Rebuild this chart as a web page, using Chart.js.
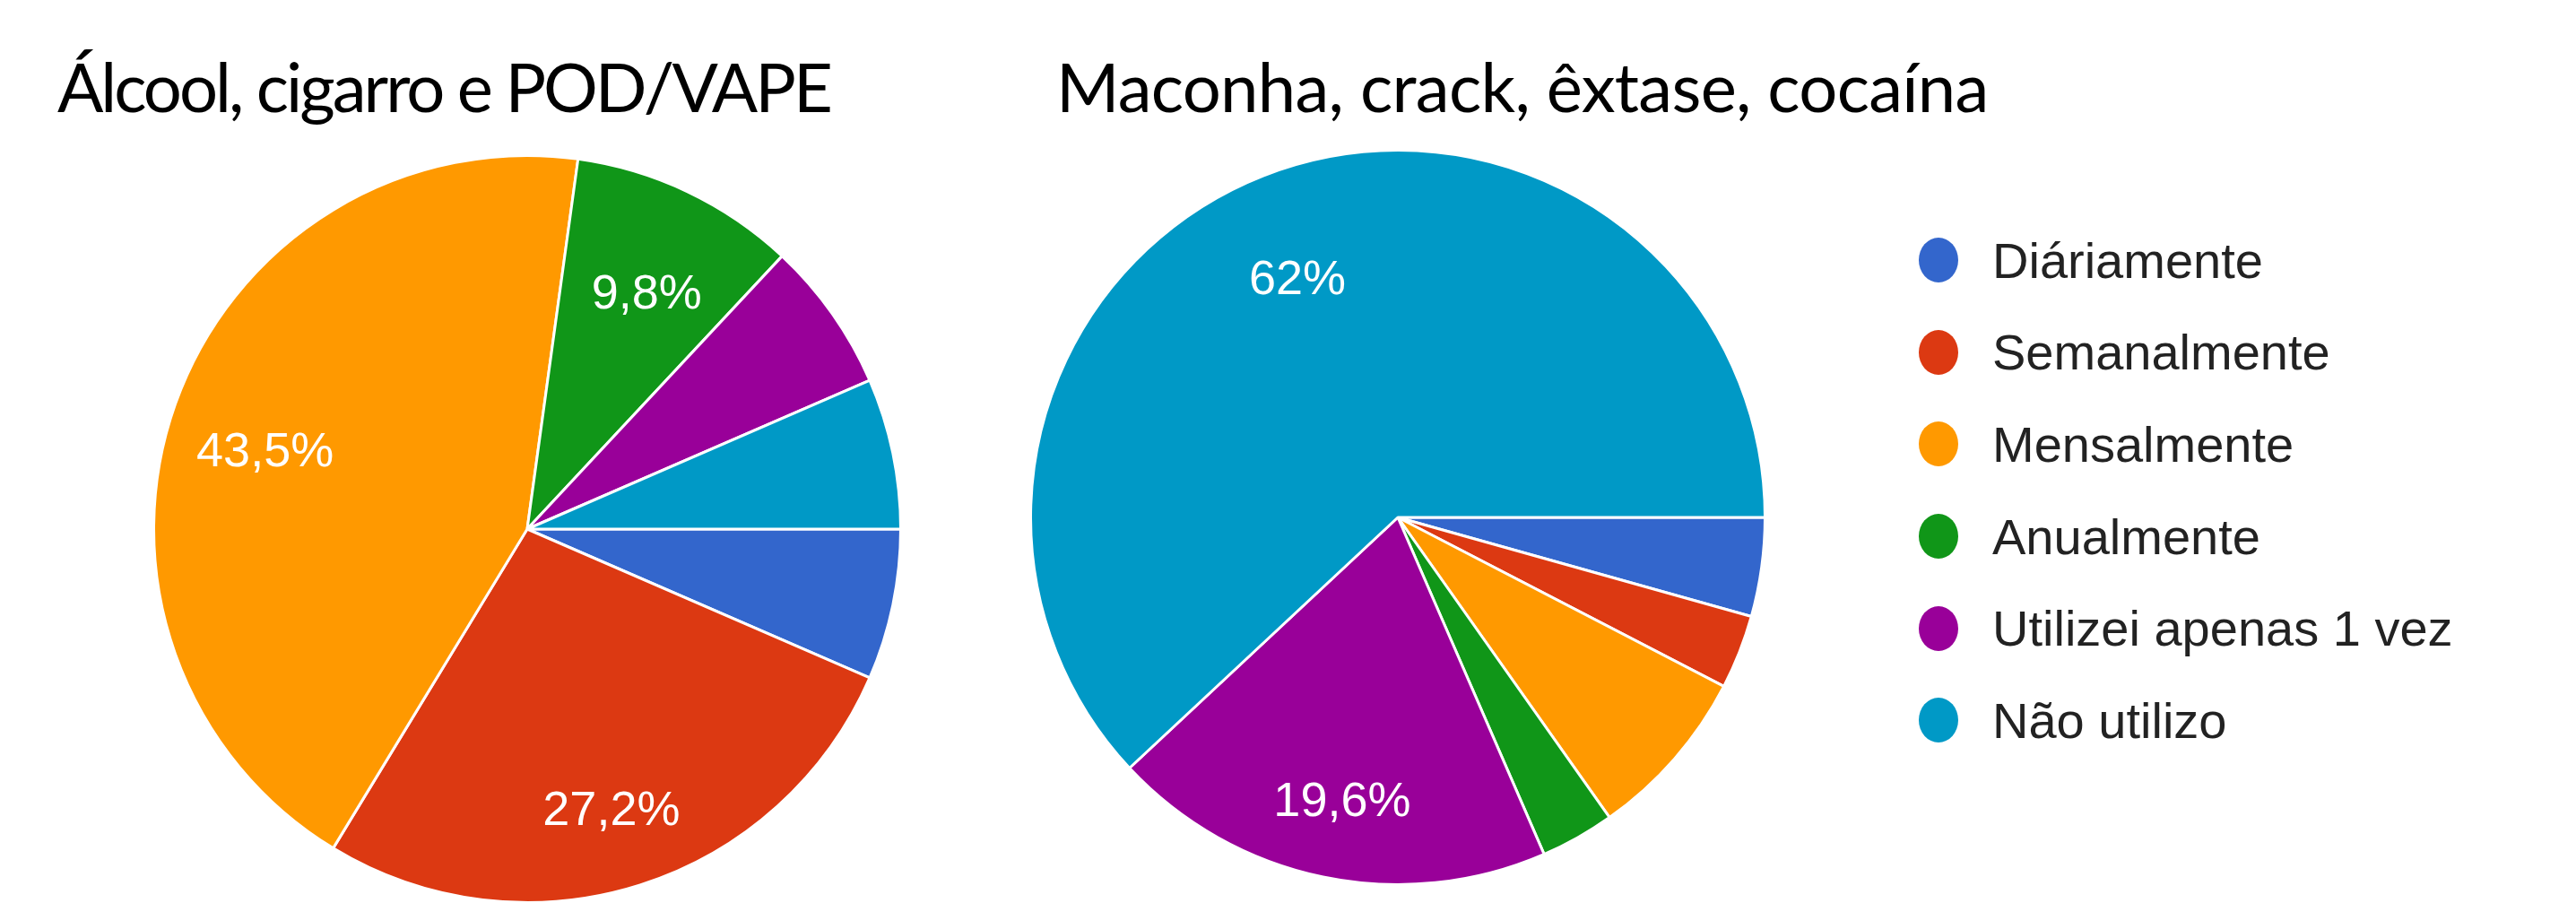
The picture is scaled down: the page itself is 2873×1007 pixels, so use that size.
<!DOCTYPE html>
<html lang="pt-BR">
<head>
<meta charset="utf-8">
<title>Frequência de uso</title>
<script src="https://cdn.jsdelivr.net/npm/chart.js@4.4.1/dist/chart.umd.min.js"></script>
<style>
    html, body {
        margin: 0;
        padding: 0;
        background: #ffffff;
        overflow: hidden;
    }
    .page {
        position: relative;
        width: 2873px;
        height: 1007px;
    }
    .chart-title {
        position: absolute;
        top: 58px;
        font-family: Lato, "Open Sans", sans-serif;
        font-size: 76px;
        line-height: 76px;
        color: #000000;
        white-space: nowrap;
    }
    #title1 { left: 64px; letter-spacing: -3px; }
    #title2 { left: 1178px; letter-spacing: -0.7px; }
    canvas { position: absolute; }
    #alcoolChart { left: 170px; top: 172px; }
    #drogasChart { left: 1148px; top: 166px; }
    #legend {
        position: absolute;
        left: 2140px;
        top: 239px;
        margin: 0;
        padding: 0;
        list-style: none;
        font-family: "Liberation Sans", Arial, sans-serif;
        font-size: 56px;
        color: #222222;
    }
    #legend li {
        display: flex;
        align-items: center;
        height: 102.6px;
        white-space: nowrap;
    }
    #legend .dot {
        width: 44px;
        height: 50px;
        border-radius: 50%;
        margin-right: 38px;
        flex: none;
    }
</style>
</head>
<body>
<div class="page">
    <div class="chart-title" id="title1">Álcool, cigarro e POD/VAPE</div>
    <div class="chart-title" id="title2">Maconha, crack, êxtase, cocaína</div>
    <canvas id="alcoolChart" width="836" height="836"></canvas>
    <canvas id="drogasChart" width="822" height="822"></canvas>
    <ul id="legend"></ul>
</div>
<script>
// Answers (number of respondents) per frequency
const categories = ['Diáriamente', 'Semanalmente', 'Mensalmente', 'Anualmente', 'Utilizei apenas 1 vez', 'Não utilizo'];
const alcoolCounts = [6, 25, 40, 9, 6, 6];
const drogasCounts = [4, 3, 7, 3, 18, 57];

const sliceColors = ['#3366cc', '#dc3912', '#ff9900', '#109618', '#990099', '#0099c6'];

// only slices big enough get their percentage written on them
const labelMinShare = 0.09;
const labelSize = 54;

function formatPct(share) {
    const p = Math.round(share * 1000) / 10;
    const txt = Number.isInteger(p) ? p.toFixed(0) : p.toFixed(1);
    return txt.replace('.', ',') + '%';
}

// Percent text inside the slices (anchor point is the top of the text)
const sliceLabels = {
    id: 'sliceLabels',
    afterDatasetsDraw(chart) {
        const ctx = chart.ctx;
        const meta = chart.getDatasetMeta(0);
        const values = chart.data.datasets[0].data;
        const total = values.reduce((a, b) => a + b, 0);
        ctx.save();
        ctx.font = labelSize + 'px "Liberation Sans", Arial, sans-serif';
        ctx.fillStyle = '#ffffff';
        ctx.textAlign = 'center';
        ctx.textBaseline = 'middle';
        meta.data.forEach((arc, i) => {
            const share = values[i] / total;
            if (share < labelMinShare) return;
            const p = arc.getProps(['x', 'y', 'startAngle', 'endAngle', 'outerRadius'], true);
            const mid = (p.startAngle + p.endAngle) / 2;
            const r = p.outerRadius * 0.745;
            const tx = p.x + Math.cos(mid) * r;
            const ty = p.y + Math.sin(mid) * r + labelSize * 0.36;
            ctx.fillText(formatPct(share), tx, ty);
        });
        ctx.restore();
    }
};

function makePie(canvasId, values) {
    return new Chart(document.getElementById(canvasId), {
        type: 'pie',
        data: {
            labels: categories,
            datasets: [{
                data: values,
                backgroundColor: sliceColors,
                borderColor: '#ffffff',
                borderWidth: 3
            }]
        },
        options: {
            responsive: false,
            animation: false,
            events: [],
            rotation: 90,
            layout: { padding: 0 },
            plugins: {
                legend: { display: false },
                tooltip: { enabled: false }
            }
        },
        plugins: [sliceLabels]
    });
}

const alcoolChart = makePie('alcoolChart', alcoolCounts);
const drogasChart = makePie('drogasChart', drogasCounts);

// Legend shared by both pies, built from the chart's own legend items
const legendEl = document.getElementById('legend');
const items = drogasChart.options.plugins.legend.labels.generateLabels(drogasChart);
items.forEach(item => {
    const li = document.createElement('li');
    const dot = document.createElement('span');
    dot.className = 'dot';
    dot.style.background = item.fillStyle;
    li.appendChild(dot);
    li.appendChild(document.createTextNode(item.text));
    legendEl.appendChild(li);
});
</script>
</body>
</html>
